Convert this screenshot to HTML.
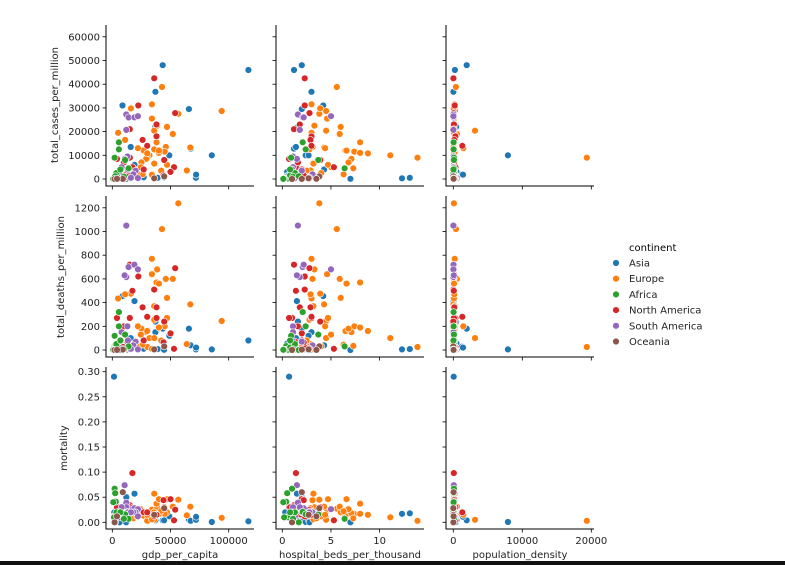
<!DOCTYPE html>
<html><head><meta charset="utf-8"><style>
html,body{margin:0;padding:0;background:#fff;width:785px;height:565px;overflow:hidden}
svg{display:block;font-family:"DejaVu Sans","Liberation Sans",sans-serif}
</style></head><body>
<svg id="chart" width="785" height="565" viewBox="0 0 785 565" xmlns="http://www.w3.org/2000/svg">
<rect x="0" y="561" width="785" height="4" fill="#111"/>
<g id="panels"></g>
<g id="legend">
<text x="629" y="251" font-size="10">continent</text>
</g>
</svg>
<script>
const continents = ["Asia","Europe","Africa","North America","South America","Oceania"];
const colors = ["#1f77b4","#ff7f0e","#2ca02c","#d62728","#9467bd","#8c564b"];
const xVars = ["gdp_per_capita","hospital_beds_per_thousand","population_density"];
const yVars = ["total_cases_per_million","total_deaths_per_million","mortality"];
const xTicks = [[0,50000,100000],[0,5,10],[0,10000,20000]];
const yTicks = [[0,10000,20000,30000,40000,50000,60000],[0,200,400,600,800,1000,1200],[0,0.05,0.10,0.15,0.20,0.25,0.30]];
const yTickLabels = [["0","10000","20000","30000","40000","50000","60000"],["0","200","400","600","800","1000","1200"],["0.00","0.05","0.10","0.15","0.20","0.25","0.30"]];
// continent index per country
const cont = [0,0,0,0,0,0,0,0,0,0,0,0,0,0,0,0,0,0,0,0,0,0,0,0,0,0,0,0,
1,1,1,1,1,1,1,1,1,1,1,1,1,1,1,1,1,1,1,1,1,1,1,1,1,1,1,1,1,1,1,1,1,1,1,1,1,
3,3,3,3,3,3,3,3,3,3,3,3,3,3,3,3,3,3,3,3,3,
4,4,4,4,4,4,4,4,4,4,4,4,4,4,
2,2,2,2,2,2,2,2,2,2,2,2,2,2,2,2,2,
5,5,5,5,5];
const gdp = [116900,43300,37000,8800,65800,19083,85500,49000,67300,71800,39000,35900,37000,1479,15847,5300,3500,5300,11000,12000,7000,27000,2000,1700,44500,11840,6200,72000,
94000,42700,56700,34000,16000,34000,38500,47000,52000,5000,11000,38000,46000,67000,64000,36000,27000,45000,40000,32000,30000,29000,25000,36000,24500,42000,18000,26000,34000,36000,40000,47000,21000,11000,9000,30000,22000,
36000,22300,54000,38000,15000,38000,26000,17300,15000,10000,4000,44600,53000,27000,13000,12000,9000,50000,44000,3000,30000,
12000,14000,19000,22000,12000,13000,10600,8000,13400,20000,18000,16000,7000,22000,
5700,5700,2000,11000,2000,2500,3000,1800,1200,4000,1500,14000,3500,900,7000,10000,2500,
44600,36000,2000,9000,4000];
const beds = [1.2,2.0,3.0,4.2,2.0,1.5,2.4,2.7,1.2,2.7,13.1,12.3,1.6,0.7,1.4,0.5,0.8,0.6,2.6,2.0,4.3,1.9,0.8,0.3,3.0,7.0,2.8,1.1,
4.5,5.6,3.8,3.0,3.9,4.6,3.3,6.0,5.9,3.0,2.9,8.0,3.1,4.3,2.9,2.8,6.5,7.4,8.0,11.1,13.9,7.1,6.8,4.5,5.0,2.5,7.3,6.3,3.2,3.2,6.6,4.7,4.0,3.5,2.0,8.8,4.4,
2.3,2.3,2.8,1.8,1.2,3.0,2.9,1.4,1.0,1.6,0.7,3.9,5.3,2.0,1.3,2.3,0.8,2.0,2.2,1.0,3.0,
1.6,2.1,2.2,5.0,1.8,1.1,1.5,1.1,1.0,2.0,3.1,2.8,0.8,1.3,
2.1,2.4,0.9,3.7,1.0,0.5,0.4,0.3,0.6,0.8,0.2,6.4,1.3,0.1,0.8,1.1,1.7,
3.8,2.7,1.0,2.0,3.5];
const density = [227,1935,15,103,232,50,7915,15,112,81,347,528,400,53,109,450,1265,256,145,100,7,98,120,150,470,2,300,1400,
231,376,80,205,60,120,94,23,520,90,150,100,65,15,20,70,120,110,240,110,19347,25,75,3150,130,108,100,85,200,200,100,140,70,180,60,110,1454,
10,200,36,80,70,300,150,66,100,100,90,4,300,130,60,100,300,150,120,200,1300,
20,25,24,17,17,50,66,40,60,30,35,20,20,10,
40,40,100,80,90,50,100,30,60,80,200,100,50,40,30,110,60,
3,18,20,40,50];
const cases = [46000,48000,36800,31000,29500,6000,10000,10000,12800,500,500,300,22000,60,13500,3000,2000,1500,300,1000,4000,700,200,50,700,100,200,1800,
28700,38800,27500,31500,29800,25500,22500,22000,19000,19500,16500,15500,13500,13300,3600,12500,12000,11500,11000,10000,9000,8500,7000,20400,5000,3500,4500,2000,1800,6500,12000,6000,2500,600,1400,10800,13000,
42500,31000,27800,23000,21000,18000,16500,5000,9000,7000,8500,8000,5000,4000,2500,1000,800,3000,1500,300,14000,
27200,26000,26000,26500,20700,9500,8500,5000,4000,3500,2000,500,1500,400,
15500,12500,9000,8000,500,500,800,300,200,1500,100,4500,2500,50,4000,1000,1200,
1100,300,20,50,100];
const deaths = [80,180,150,455,180,413,5,120,40,5,8,5,240,17,100,55,28,30,5,50,40,10,3,1,2,0,0,20,
245,1020,1238,770,475,640,680,440,600,435,470,570,600,385,50,255,160,200,190,100,25,150,180,100,130,80,35,45,10,370,560,270,30,5,30,160,200,
510,620,690,360,720,270,360,500,270,200,270,240,10,80,70,20,25,140,65,4,280,
1050,700,720,680,615,200,630,150,80,70,40,10,15,5,
320,200,120,130,33,29,33,3,2,20,1,30,50,2,80,7,0,
30,5,0,3,1];
const mortality = [0.002,0.004,0.004,0.015,0.006,0.057,0.0005,0.012,0.003,0.005,0.018,0.017,0.011,0.29,0.008,0.018,0.014,0.02,0.017,0.05,0.01,0.014,0.015,0.02,0.004,0.0,0.0,0.011,
0.009,0.027,0.045,0.025,0.016,0.025,0.03,0.02,0.031,0.022,0.028,0.037,0.044,0.031,0.014,0.02,0.013,0.017,0.017,0.01,0.003,0.018,0.026,0.005,0.026,0.023,0.008,0.022,0.006,0.057,0.046,0.046,0.012,0.008,0.021,0.015,0.015,
0.012,0.02,0.025,0.016,0.034,0.015,0.022,0.098,0.03,0.028,0.03,0.03,0.004,0.02,0.027,0.02,0.03,0.046,0.044,0.012,0.02,
0.039,0.027,0.028,0.026,0.03,0.021,0.074,0.03,0.02,0.02,0.02,0.02,0.01,0.012,
0.021,0.016,0.013,0.016,0.067,0.058,0.041,0.01,0.01,0.013,0.01,0.007,0.02,0.04,0.02,0.007,0.0,
0.028,0.015,0.0,0.06,0.012];

const NS = "http://www.w3.org/2000/svg";
const colPx = [[106,254],[276,424],[446,594]];
const rowPx = [[25,186],[196,357],[367,529]];
// axis functions: pixel of value 0 and pixels per unit
const xZero = [112.3,282.3,453.3], xScale = [58.2/50000, 9.73, 69/10000];
const yZero = [179,350,522.3], yScale = [23.7/10000, 23.7/200, 25.1/0.05];
function sx(c,v){return xZero[c]+v*xScale[c];}
function sy(r,v){return yZero[r]-v*yScale[r];}
const xData = [gdp,beds,density], yData = [cases,deaths,mortality];
const panels = document.getElementById('panels');
function mk(tag, attrs, parent){const e=document.createElementNS(NS,tag);for(const k in attrs)e.setAttribute(k,attrs[k]);parent.appendChild(e);return e;}

for(let r=0;r<3;r++){
  for(let c=0;c<3;c++){
    const g = mk('g',{},panels);
    
    
    const [x0,x1]=colPx[c], [y0,y1]=rowPx[r];
    const ax = mk('path',{d:`M${x0} ${y0}V${y1}H${x1}`,fill:'none',stroke:'#000','stroke-width':1},g);
    
    
    xTicks[c].forEach((t,i)=>{
      const x=sx(c,t);
      const tk=mk('line',{x1:x,x2:x,y1:y1,y2:y1+3.5,stroke:'#000','stroke-width':0.8},g);
      
      
      if(r===2){
        const tl=mk('text',{x:x,y:y1+15,'font-size':10,'text-anchor':'middle',fill:'#222'},g);
        tl.textContent=String(t);
        
        
      }
    });
    yTicks[r].forEach((t,i)=>{
      const y=sy(r,t);
      const tk=mk('line',{x1:x0-3.5,x2:x0,y1:y,y2:y,stroke:'#000','stroke-width':0.8},g);
      
      
      if(c===0){
        const tl=mk('text',{x:x0-6,y:y+3.5,'font-size':10,'text-anchor':'end',fill:'#222'},g);
        tl.textContent=yTickLabels[r][i];
        
        
      }
    });
    for(let i=0;i<gdp.length;i++){
      const p=mk('circle',{cx:sx(c,xData[c][i]).toFixed(1),cy:sy(r,yData[r][i]).toFixed(1),r:3.4,fill:colors[cont[i]],stroke:'#fff','stroke-width':0.6},g);
      
      
    }
  }
}
const ylx=[58,64,67], yly=[105,277,448];
for(let r=0;r<3;r++){
  const t=mk('text',{x:ylx[r],y:yly[r],'font-size':10,'text-anchor':'middle',fill:'#222',transform:`rotate(-90 ${ylx[r]} ${yly[r]})`},panels);
  t.textContent=yVars[r];
  
  
}
const xlx=[180,350,520];
for(let c=0;c<3;c++){
  const t=mk('text',{x:xlx[c],y:558,'font-size':10,'text-anchor':'middle',fill:'#222'},panels);
  t.textContent=xVars[c];
  
  
}
const leg=document.getElementById('legend');
continents.forEach((n,i)=>{
  const y=263+i*15.7;
  const m=mk('circle',{cx:616,cy:y,r:3.4,fill:colors[i],stroke:'#fff','stroke-width':0.6},leg);
  
  
  const t=mk('text',{x:629,y:y+3.5,'font-size':10,fill:'#222'},leg);
  t.textContent=n;
  
  
});
</script>
</body></html>
